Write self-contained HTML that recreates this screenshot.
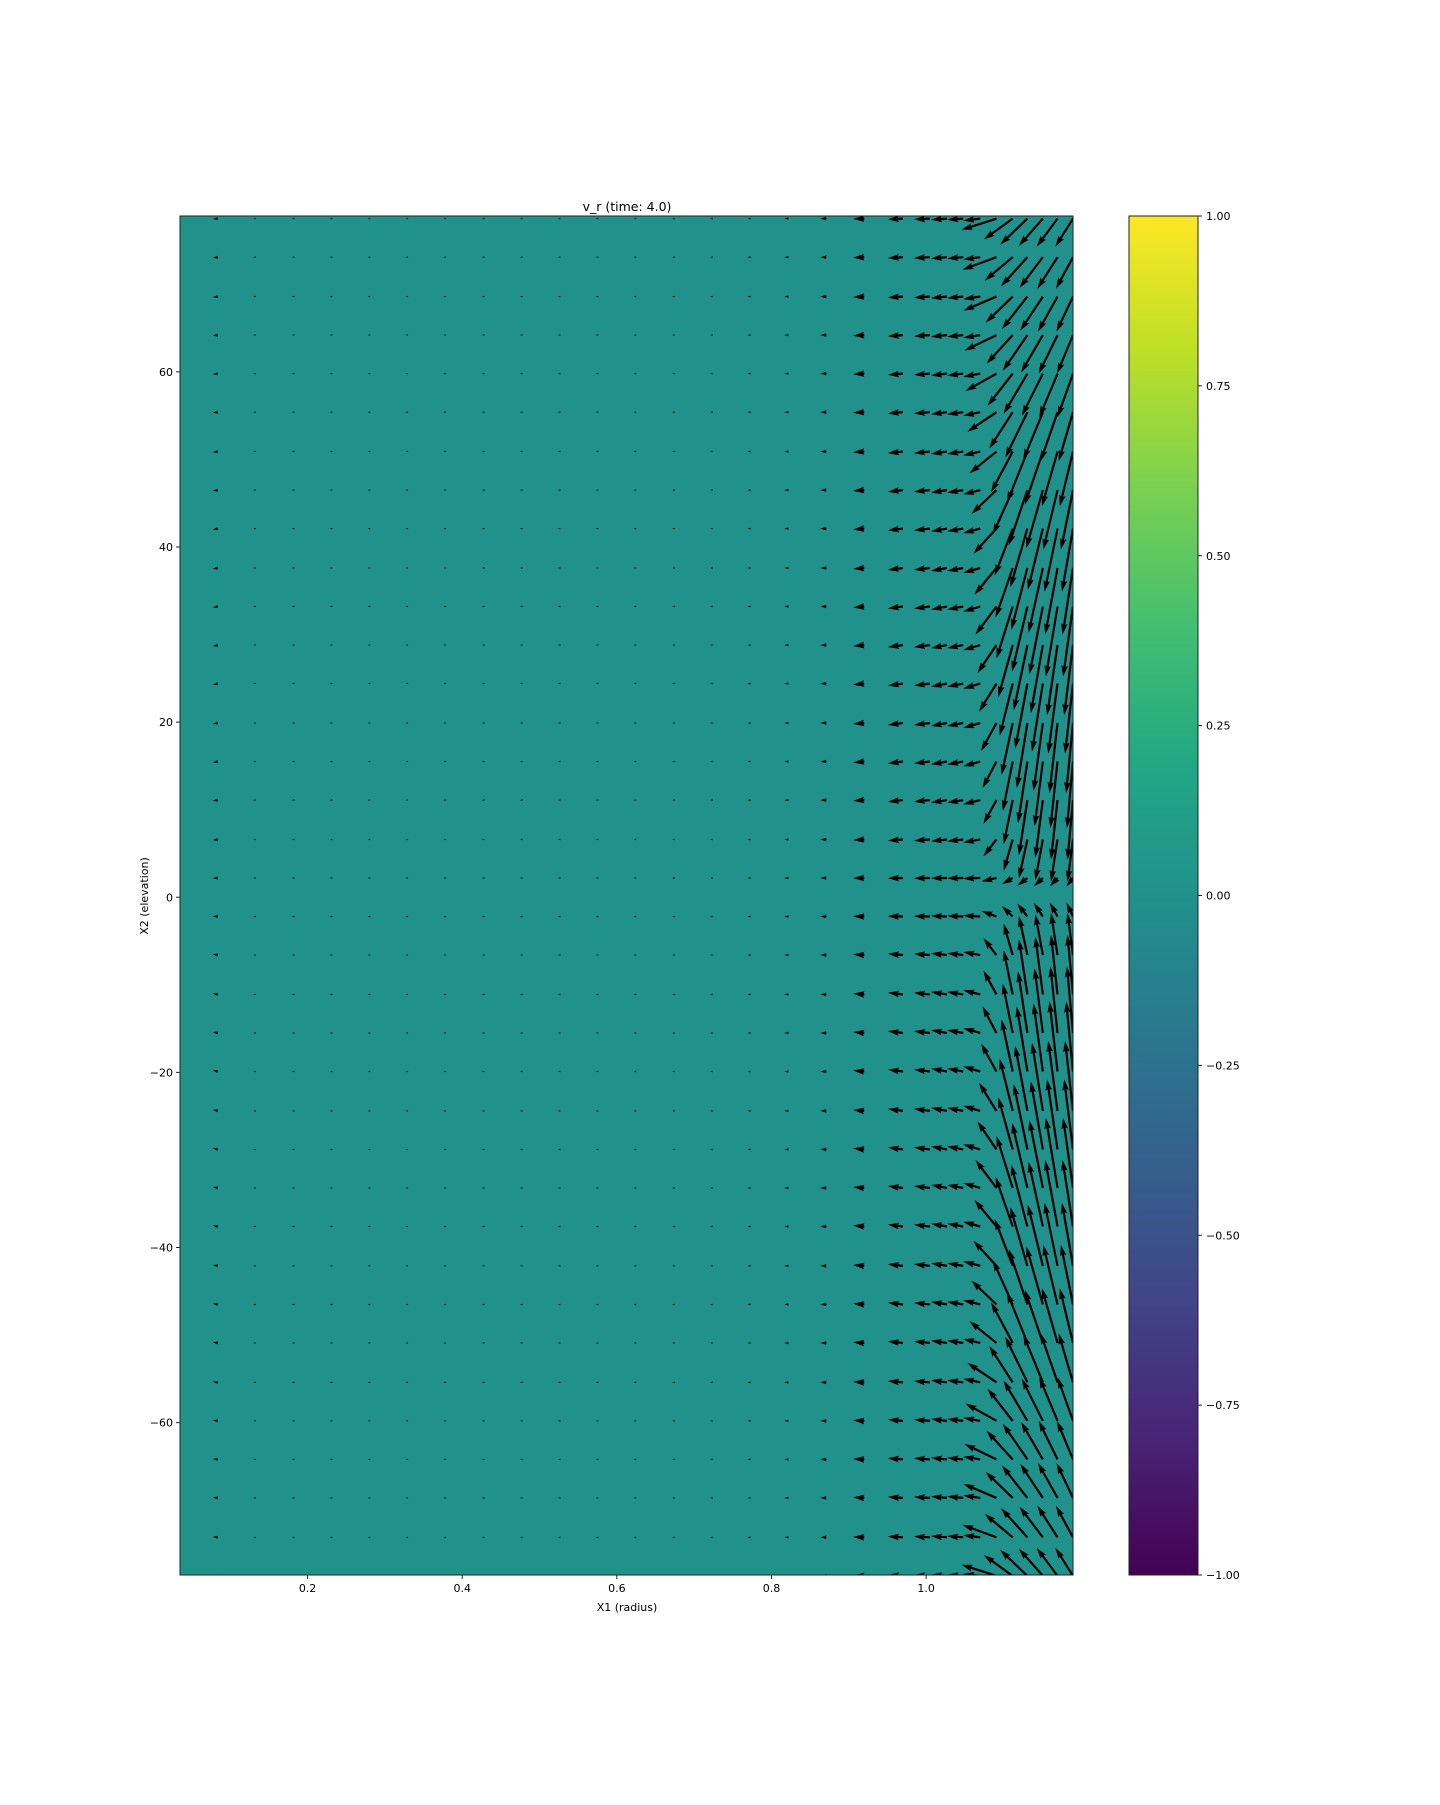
<!DOCTYPE html>
<html><head><meta charset="utf-8"><title>v_r (time: 4.0)</title>
<style>
html,body{margin:0;padding:0;background:#fff;}
svg text{font-family:"DejaVu Sans","Liberation Sans",sans-serif;font-size:11px;fill:#000;}
</style></head>
<body>
<svg id="fig" width="1440" height="1800" viewBox="0 0 1440 1800" xmlns="http://www.w3.org/2000/svg">
<defs>
<linearGradient id="viridis" x1="0" y1="1" x2="0" y2="0">
<stop offset="0" stop-color="#440154"/><stop offset="0.1" stop-color="#482475"/>
<stop offset="0.2" stop-color="#414487"/><stop offset="0.3" stop-color="#355f8d"/>
<stop offset="0.4" stop-color="#2a788e"/><stop offset="0.5" stop-color="#21918c"/>
<stop offset="0.6" stop-color="#22a884"/><stop offset="0.7" stop-color="#44bf70"/>
<stop offset="0.8" stop-color="#7ad151"/><stop offset="0.9" stop-color="#bddf26"/>
<stop offset="1" stop-color="#fde725"/>
</linearGradient>
<clipPath id="plotclip"><rect x="180" y="216" width="893" height="1359"/></clipPath>
</defs>
<rect x="180" y="216" width="893" height="1359" fill="#21918c"/>
<g id="arrows" clip-path="url(#plotclip)"></g>
<rect x="180" y="216" width="893" height="1359" fill="none" stroke="#222" stroke-width="1"/>
<text x="627" y="211" text-anchor="middle" style="font-size:12.5px">v_r (time: 4.0)</text>
<g id="xaxis"></g>
<g id="yaxis"></g>
<text x="627" y="1611" text-anchor="middle">X1 (radius)</text>
<text x="148" y="896" text-anchor="middle" transform="rotate(-90 148 896)">X2 (elevation)</text>
<rect x="1129" y="216" width="69" height="1359" fill="url(#viridis)" stroke="#222" stroke-width="1"/>
<g id="cbaxis"></g>
</svg>
<script>
// ---- data ----
const xTicks = [0.2, 0.4, 0.6, 0.8, 1.0];
const xTickLabels = ["0.2", "0.4", "0.6", "0.8", "1.0"];
const yTicks = [60, 40, 20, 0, -20, -40, -60];
const yTickLabels = ["60", "40", "20", "0", "\u221220", "\u221240", "\u221260"];
const cbTicks = [1, 0.75, 0.5, 0.25, 0, -0.25, -0.5, -0.75, -1];
const cbTickLabels = ["1.00", "0.75", "0.50", "0.25", "0.00", "\u22120.25", "\u22120.50", "\u22120.75", "\u22121.00"];
// grid columns (radius) and rows (elevation)
const xCols = [0.035,0.084,0.133,0.183,0.232,0.281,0.330,0.379,0.429,0.478,0.527,0.576,0.625,0.675,0.724,0.773,0.822,0.871,0.920,0.970,1.005,1.027,1.048,1.070,1.091,1.112,1.131,1.151,1.170,1.190];
const yRows = [77.5,73.1,68.6,64.2,59.8,55.4,50.9,46.5,42.1,37.6,33.2,28.8,24.4,19.9,15.5,11.1,6.6,2.2,-2.2,-6.6,-11.1,-15.5,-19.9,-24.4,-28.8,-33.2,-37.6,-42.1,-46.5,-50.9,-55.4,-59.8,-64.2,-68.6,-73.1,-77.5];
// per-column components (leftward constant, leftward variable, vertical variable)
const uConst = [3,5,2.5,2.5,2.5,2.5,2.5,2.5,2.5,2.5,2.5,2.5,2.5,2.5,2.5,3,4,6,11,15,16,16,16,17,3,0,0,0,0,0];
const uVar   = [0,0,0,0,0,0,0,0,0,0,0,0,0,0,0,0,0,0,0,0,0,0,0,0,20,18,17,15,13,11];
const vVar   = [0,1,0,0,0,0,0,0,0,0,0,0,0,0,0,0,0,0,1,2,2,3,3,5,28,52,65,68,70,70];
// per-row factors (positive vertical = downward)
const ru = [1.6,1.55,1.5,1.45,1.4,1.3,1.2,1.1,1.0,.95,.9,.8,.72,.62,.55,.5,.5,.6,.6,.5,.5,.55,.62,.72,.8,.9,.95,1.0,1.1,1.2,1.3,1.4,1.45,1.5,1.55,1.6];
const rv = [.4,.45,.5,.55,.62,.7,.78,.85,.9,.95,1,1,1,1,.95,.85,.6,.12,-.2,-.6,-.85,-.95,-1,-1,-1,-1,-.95,-.9,-.85,-.78,-.7,-.62,-.55,-.5,-.45,-.4];

// ---- axes ----
const X0 = 180, X1 = 1073, Y0 = 216, Y1 = 1575;
const xMin = 0.035, xMax = 1.19, yMin = -77.4, yMax = 77.8;
function sx(v){ return X0 + (v - xMin) / (xMax - xMin) * (X1 - X0); }
function sy(v){ return Y1 - (v - yMin) / (yMax - yMin) * (Y1 - Y0); }
function scb(v){ return Y1 - (v + 1) / 2 * (Y1 - Y0); }
const NS = "http://www.w3.org/2000/svg";
function mk(tag, attrs, parent){
  const e = document.createElementNS(NS, tag);
  for (const k in attrs) e.setAttribute(k, attrs[k]);
  parent.appendChild(e); return e;
}
const xa = document.getElementById('xaxis');
xTicks.forEach((t, i) => {
  const x = sx(t);
  const l = mk('line', {x1:x, y1:Y1, x2:x, y2:Y1+4, stroke:'#222', 'stroke-width':1}, xa);
  
  
  const tx = mk('text', {x:x, y:Y1+17, 'text-anchor':'middle'}, xa);
  tx.textContent = xTickLabels[i];
  
  
});
const ya = document.getElementById('yaxis');
yTicks.forEach((t, i) => {
  const y = sy(t);
  const l = mk('line', {x1:X0-4, y1:y, x2:X0, y2:y, stroke:'#222', 'stroke-width':1}, ya);
  
  
  const tx = mk('text', {x:X0-7, y:y+4, 'text-anchor':'end'}, ya);
  tx.textContent = yTickLabels[i];
  
  
});
const ca = document.getElementById('cbaxis');
cbTicks.forEach((t, i) => {
  const y = scb(t);
  const l = mk('line', {x1:1198, y1:y, x2:1202, y2:y, stroke:'#222', 'stroke-width':1}, ca);
  
  
  const tx = mk('text', {x:1206, y:y+4}, ca);
  tx.textContent = cbTickLabels[i];
  
  
});

// ---- quiver ----
const g = document.getElementById('arrows');
const W = 2.2, HL = 5*W, HAL = 4.5*W, HW = 3*W;
xCols.forEach((xv, i) => {
  yRows.forEach((yv, j) => {
    const u = -(uConst[i] + uVar[i]*ru[j]);
    const v = vVar[i]*rv[j];
    const L = Math.hypot(u, v);
    if (L < 0.3) return;
    const s = L < HL ? L/HL : 1;
    const w = W*s, hl = HL*s, hal = HAL*s, hw = HW*s;
    const pts = [[0,-w/2],[L-hal,-w/2],[L-hl,-hw/2],[L,0],[L-hl,hw/2],[L-hal,w/2],[0,w/2]];
    const ang = Math.atan2(v, u);
    const c = Math.cos(ang), sn = Math.sin(ang);
    const tx = sx(xv), ty = sy(yv);
    const p = pts.map(q => (tx + q[0]*c - q[1]*sn).toFixed(1) + ',' + (ty + q[0]*sn + q[1]*c).toFixed(1)).join(' ');
    const poly = mk('polygon', {points:p, fill:'#000'}, g);
    
    
  });
});
</script>
</body></html>
